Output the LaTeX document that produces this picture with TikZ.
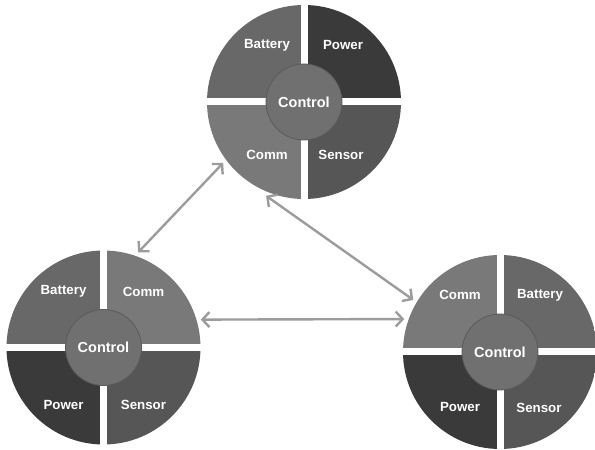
\documentclass[tikz,border=0pt]{standalone}
\usepackage{fontspec}
\setmainfont{Liberation Sans}
\usetikzlibrary{arrows.meta}

\definecolor{batteryfill}{RGB}{104,104,104}
\definecolor{powerfill}{RGB}{58,58,58}
\definecolor{commfill}{RGB}{121,121,121}
\definecolor{sensorfill}{RGB}{86,86,86}
\definecolor{ctrlfill}{RGB}{112,112,112}
\definecolor{ctrledge}{RGB}{90,90,90}
\definecolor{linkgray}{RGB}{156,156,156}

\tikzset{
  quadlabel/.style={text=white, inner sep=0pt,
    font=\bfseries\fontsize{13.3}{15}\selectfont},
  ctrl/.style={circle, fill=ctrlfill, draw=ctrledge, line width=0.8pt,
    minimum size=76pt, inner sep=0pt, text=white,
    font=\bfseries\fontsize{14.5}{16}\selectfont},
  ring/.style={circle, minimum size=202pt, inner sep=0pt},
  link/.style={draw=linkgray, line width=2.4pt,
    {Straight Barb[length=7pt,width=15pt]}-{Straight Barb[length=7pt,width=15pt]}}
}

% four quadrants of a hub, separated by a white cross
\newcommand{\hubquads}[4]{%
  \begin{scope}
    \clip (0,0) circle (97pt);
    \fill[#1] (-3.5,3.5) rectangle (-100,100);
    \fill[#2] (3.5,3.5) rectangle (100,100);
    \fill[#3] (-3.5,-3.5) rectangle (-100,-100);
    \fill[#4] (3.5,-3.5) rectangle (100,-100);
  \end{scope}}

\begin{document}
\begin{tikzpicture}[x=1pt,y=1pt]
  \useasboundingbox (0,0) rectangle (595,450);
  \clip (0,0) rectangle (595,450);

  % upper hub
  \begin{scope}[shift={(304,348)}]
    \hubquads{batteryfill}{powerfill}{commfill}{sensorfill}
    \node[ring] (top) at (0,0) {};
    \node[quadlabel] (topBattery) at (-37,57) {Battery};
    \node[quadlabel] (topPower) at (39,57) {Power};
    \node[quadlabel] (topComm) at (-37,-53) {Comm};
    \node[quadlabel] (topSensor) at (37,-53) {Sensor};
    \node[ctrl] (topControl) at (0,0) {Control};
  \end{scope}

  % lower left hub
  \begin{scope}[shift={(103.5,102.5)}]
    \hubquads{batteryfill}{commfill}{powerfill}{sensorfill}
    \node[ring] (left) at (0,0) {};
    \node[quadlabel] (leftBattery) at (-40,56) {Battery};
    \node[quadlabel] (leftComm) at (40,56) {Comm};
    \node[quadlabel] (leftPower) at (-40,-57) {Power};
    \node[quadlabel] (leftSensor) at (40,-57) {Sensor};
    \node[ctrl] (leftControl) at (0,0) {Control};
  \end{scope}

  % lower right hub
  \begin{scope}[shift={(500,98)}]
    \hubquads{commfill}{batteryfill}{powerfill}{sensorfill}
    \node[ring] (right) at (0,0) {};
    \node[quadlabel] (rightComm) at (-40,57) {Comm};
    \node[quadlabel] (rightBattery) at (40,57) {Battery};
    \node[quadlabel] (rightPower) at (-40,-55) {Power};
    \node[quadlabel] (rightSensor) at (39,-56) {Sensor};
    \node[ctrl] (rightControl) at (0,0) {Control};
  \end{scope}

  % links between hubs
  \draw[link] (top.217) -- (left.70);
  \draw[link] (top.248) -- (right.149);
  \draw[link] (left.16) -- (right.161);
\end{tikzpicture}
\end{document}
